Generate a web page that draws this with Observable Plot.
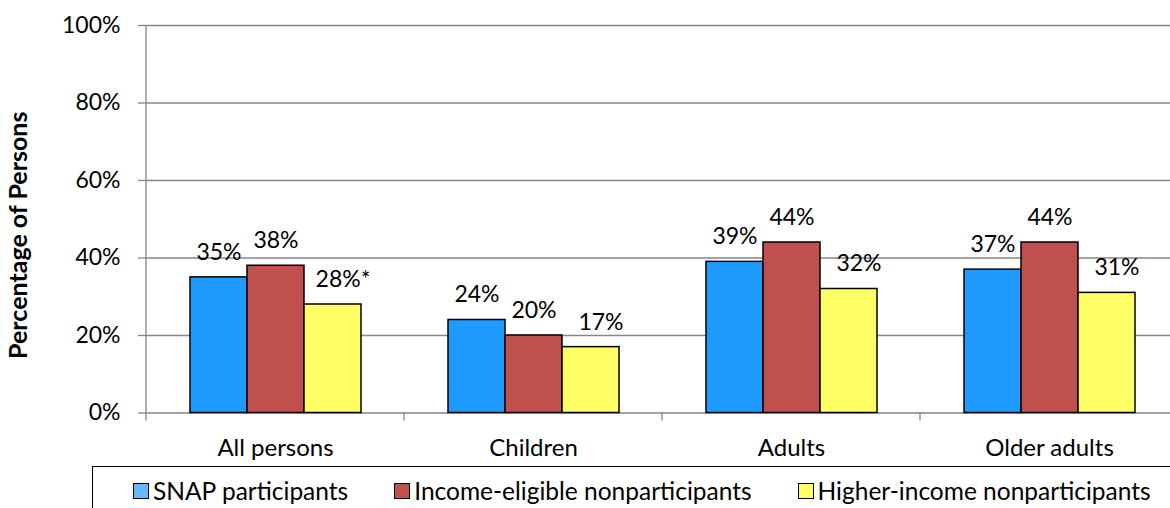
<!DOCTYPE html>
<html>
<head>
<meta charset="utf-8">
<script src="https://cdn.jsdelivr.net/npm/d3@7"></script>
<script src="https://cdn.jsdelivr.net/npm/@observablehq/plot@0.6"></script>
<style>
  html, body { margin: 0; padding: 0; background: #fff; }
  body { width: 1170px; height: 508px; overflow: hidden; font-family: Lato, "Open Sans", sans-serif; }
  #chart svg { display: block; }
  #legend {
    margin-left: 92px; width: 1120px; height: 60px; box-sizing: border-box;
    border-top: 1.5px solid #000; border-left: 1.5px solid #000;
    display: flex; align-items: flex-start; padding-left: 40px; padding-top: 9px;
    font-size: 24.5px; color: #000; white-space: nowrap;
  }
  .item { display: flex; align-items: center; margin-right: 46px; }
  .swatch { width: 14px; height: 14px; border: 1.5px solid #000; margin-right: 4px; }
</style>
</head>
<body>
<div id="chart"></div>
<div id="legend"></div>
<script>
// Age groups shown along the x axis
const categories = ["All persons", "Children", "Adults", "Older adults"];
// Population groups, one bar each per age group
const seriesNames = ["SNAP participants", "Income-eligible nonparticipants", "Higher-income nonparticipants"];
// Percentage of persons in each group (%)
const snapParticipants = [35, 24, 39, 37];
const incomeEligible = [38, 20, 44, 44];
const higherIncome = [28, 17, 32, 31];
// Significance markers appended to the higher-income labels
const higherIncomeNotes = ["*", "", "", ""];
// Y axis ticks (%)
const yTicks = [0, 20, 40, 60, 80, 100];

const barColors = ["#1F9BFF", "#C0504D", "#FFFF66"];
const swatchColors = ["#66B9FF", "#C0504D", "#FFFF66"];

const seriesValues = [snapParticipants, incomeEligible, higherIncome];
const rows = categories.flatMap((category, i) =>
  seriesNames.map((series, s) => ({
    category,
    series,
    value: seriesValues[s][i],
    note: s === 2 ? higherIncomeNotes[i] : ""
  }))
);

const labelText = d => `${d.value}%${d.note}`;
const gray = "#868686";

const chart = Plot.plot({
  width: 1170,
  height: 466,
  marginLeft: 146,
  marginRight: -8,
  marginTop: 25,
  marginBottom: 53.5,
  style: { fontFamily: "Lato, 'Open Sans', sans-serif", fontSize: "23px", color: "#000", background: "#fff" },
  fx: { domain: categories, padding: 0, label: null },
  x: { domain: seriesNames, paddingInner: 0, paddingOuter: 0.75, axis: null },
  y: { domain: [0, 100], label: null },
  color: { domain: seriesNames, range: barColors },
  marks: [
    Plot.gridY(yTicks.filter(t => t > 0), { stroke: gray, strokeOpacity: 1, strokeWidth: 1.3 }),
    Plot.ruleY([0], { stroke: gray, strokeWidth: 1.3 }),
    Plot.axisY({
      ticks: yTicks, tickFormat: d => `${d}%`, tickSize: 8, tickPadding: 18,
      stroke: gray, strokeWidth: 1.3, fill: "#000", fontSize: 23, label: null
    }),
    Plot.axisFx({ anchor: "bottom", tickSize: 0, tickPadding: 26, label: null, fontSize: 24, fill: "#000" }),
    Plot.barY(rows, {
      fx: "category", x: "series", y: "value", fill: "series",
      stroke: "#000", strokeWidth: 1.5
    }),
    Plot.text(rows.filter(d => d.series !== seriesNames[2]), {
      fx: "category", x: "series", y: "value", text: labelText,
      dy: -25, fontSize: 23, fill: "#000"
    }),
    Plot.text(rows.filter(d => d.series === seriesNames[2]), {
      fx: "category", x: "series", y: "value", text: labelText,
      dy: -25, dx: 10, fontSize: 23, fill: "#000"
    }),
    Plot.text(["Percentage of Persons"], {
      facet: "super", frameAnchor: "left", textAnchor: "middle", rotate: -90, dx: -128, dy: 16,
      fontWeight: "bold", fontSize: 25, fill: "#000"
    })
  ]
});

// Vertical axis line and category divider ticks, placed from the chart's scales
const fx = chart.scale("fx");
const y = chart.scale("y");
const svg = d3.select(chart);
const x0 = fx.range[0];
const yBase = y.apply(0);
const yTop = y.apply(100);
const tickLen = 8;
const deco = svg.append("g").attr("stroke", gray).attr("stroke-width", 1.3);
deco.append("line").attr("x1", x0).attr("x2", x0).attr("y1", yTop).attr("y2", yBase + tickLen);
categories.forEach((c, i) => {
  const xb = x0 + (i + 1) * fx.step;
  deco.append("line").attr("x1", xb).attr("x2", xb).attr("y1", yBase).attr("y2", yBase + tickLen);
});

document.getElementById("chart").appendChild(chart);

// Legend under the chart
const legend = d3.select("#legend");
seriesNames.forEach((name, i) => {
  const item = legend.append("div").attr("class", "item");
  item.append("div").attr("class", "swatch").style("background", swatchColors[i]);
  item.append("span").text(name);
});
</script>
</body>
</html>
